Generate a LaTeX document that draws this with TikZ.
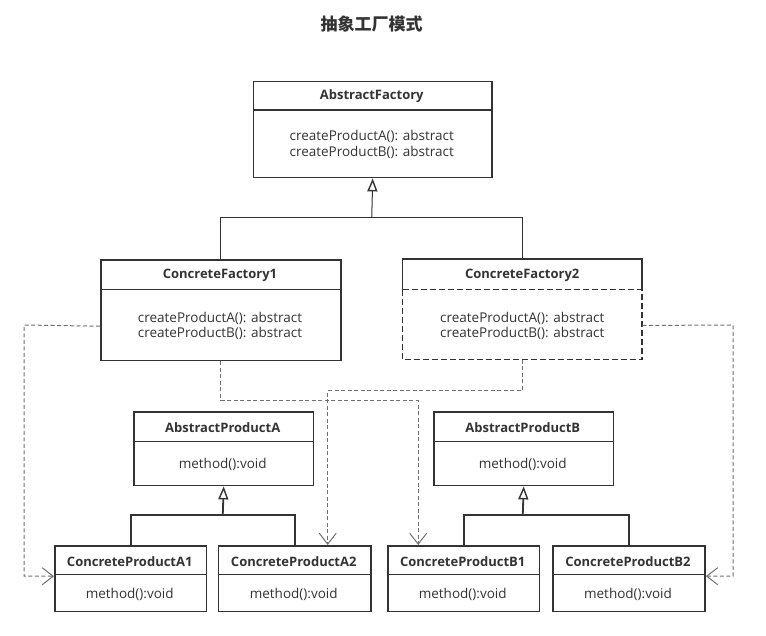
\documentclass[tikz,border=0pt]{standalone}
\usepackage{fontspec}
\setmainfont{Open Sans}
\newfontfamily\cjk{Noto Sans CJK SC}
\usetikzlibrary{arrows.meta,calc}
\definecolor{ink}{HTML}{333333}
\definecolor{dep}{HTML}{707070}
\begin{document}
\begin{tikzpicture}[x=1pt,y=-1pt,
  box/.style={draw=ink,line width=1.9pt,rectangle,inner sep=0pt,anchor=north west},
  nobox/.style={rectangle,inner sep=0pt,anchor=north west},
  ttl/.style={inner sep=0pt,text=ink,font=\fontsize{13}{15}\selectfont\bfseries},
  body/.style={inner sep=0pt,text=ink,align=center,font=\fontsize{13.5}{15.5}\selectfont},
  divl/.style={draw=ink,line width=1.9pt},
  gen/.style={draw=ink,line width=1.1pt},
  gentip/.style={gen,-{Triangle[open,length=13pt,width=10pt,fill=white,line width=1.4pt]}},
  deps/.style={draw=dep,line width=1pt,dash pattern=on 4pt off 2.5pt,
    -{Straight Barb[length=11pt,width=17pt,line width=1pt]}}
]
\useasboundingbox (0,0) rectangle (766,635);

% title
\node[inner sep=0pt,text=ink,font=\cjk\bfseries\fontsize{17}{20}\selectfont] (title) at (371.7,24) {抽象工厂模式};

% AbstractFactory
\node[box,minimum width=238.5pt,minimum height=96pt] (af) at (252.5,80.5) {};
\draw[divl] (252.5,110) -- (491,110);
\node[ttl] (aft) at (371.75,96.5) {AbstractFactory};
\node[body] (afb) at (371.75,144.5) {createProductA(): abstract\\createProductB(): abstract};

% ConcreteFactory1
\node[box,minimum width=240pt,minimum height=100.5pt] (cf1) at (100,259) {};
\draw[divl] (100,289.5) -- (340,289.5);
\node[ttl] (cf1t) at (220,275.5) {ConcreteFactory1};
\node[body] (cf1b) at (220,326) {createProductA(): abstract\\createProductB(): abstract};

% ConcreteFactory2 (dashed body)
\node[nobox,minimum width=239.5pt,minimum height=100.5pt] (cf2) at (402.5,259) {};
\draw[divl] (402.5,289.5) -- (402.5,259) -- (642,259) -- (642,289.5);
\draw[divl,dash pattern=on 6pt off 3pt] (402.5,289.5) -- (642,289.5);
\draw[divl,dash pattern=on 6pt off 3pt] (402.5,289.5) -- (402.5,359.5) -- (642,359.5) -- (642,289.5);
\node[ttl] (cf2t) at (522.25,275.5) {ConcreteFactory2};
\node[body] (cf2b) at (522.25,326) {createProductA(): abstract\\createProductB(): abstract};

% AbstractProductA / B
\node[box,minimum width=179.5pt,minimum height=73.5pt] (apa) at (133,411) {};
\draw[divl] (133,441.5) -- (312.5,441.5);
\node[ttl] (apat) at (222.75,427.3) {AbstractProductA};
\node[body] (apab) at (222.75,464) {method():void};

\node[box,minimum width=179.5pt,minimum height=73.5pt] (apb) at (433,411) {};
\draw[divl] (433,441.5) -- (612.5,441.5);
\node[ttl] (apbt) at (522.75,427.3) {AbstractProductB};
\node[body] (apbb) at (522.75,464) {method():void};

% Concrete products
\node[box,minimum width=151.5pt,minimum height=65.5pt] (a1) at (54,545) {};
\draw[divl] (54,574.5) -- (205.5,574.5);
\node[ttl] (a1t) at (129.75,561.3) {ConcreteProductA1};
\node[body] (a1b) at (129.75,594) {method():void};

\node[box,minimum width=152.5pt,minimum height=65.5pt] (a2) at (217.5,545) {};
\draw[divl] (217.5,574.5) -- (370,574.5);
\node[ttl] (a2t) at (293.75,561.3) {ConcreteProductA2};
\node[body] (a2b) at (293.75,594) {method():void};

\node[box,minimum width=151.5pt,minimum height=65.5pt] (b1) at (387,545) {};
\draw[divl] (387,574.5) -- (538.5,574.5);
\node[ttl] (b1t) at (462.75,561.3) {ConcreteProductB1};
\node[body] (b1b) at (462.75,594) {method():void};

\node[box,minimum width=152pt,minimum height=65.5pt] (b2) at (552,545) {};
\draw[divl] (552,574.5) -- (704,574.5);
\node[ttl] (b2t) at (628,561.3) {ConcreteProductB2};
\node[body] (b2b) at (628,594) {method():void};

% generalization: factories
\coordinate (jf) at (371.75,217.7);
\draw[gen,line width=1pt] (cf1.north) |- (jf) -| (cf2.north);
\draw[gentip,line width=1pt] (jf) -- (af.south);

% generalization: products A
\coordinate (ja) at (222.75,515.3);
\draw[gen,line width=1.8pt] (a1.north) |- (ja) -| (a2.north);
\draw[gentip,line width=1.8pt] (ja) -- (apa.south);

% generalization: products B
\coordinate (jb) at (522.75,515.3);
\draw[gen,line width=1.8pt] (b1.north) |- (jb) -| (b2.north);
\draw[gentip,line width=1.8pt] (jb) -- (apb.south);

% dependencies
\coordinate (lft) at (24,325);
\coordinate (rgt) at (733,325);
\draw[deps] ([yshift=-16pt]cf1.west) -- (lft) |- ([yshift=2.5pt]a1.west);
\draw[deps] ([yshift=-16pt]cf2.east) -- (rgt) |- ([yshift=2.5pt]b2.east);
\draw[deps] (cf1.south) -- ++(0,39) -| ([xshift=-45.5pt]b1.north);
\draw[deps] (cf2.south) -- ++(0,31) -| ([xshift=33pt]a2.north);
\end{tikzpicture}
\end{document}
